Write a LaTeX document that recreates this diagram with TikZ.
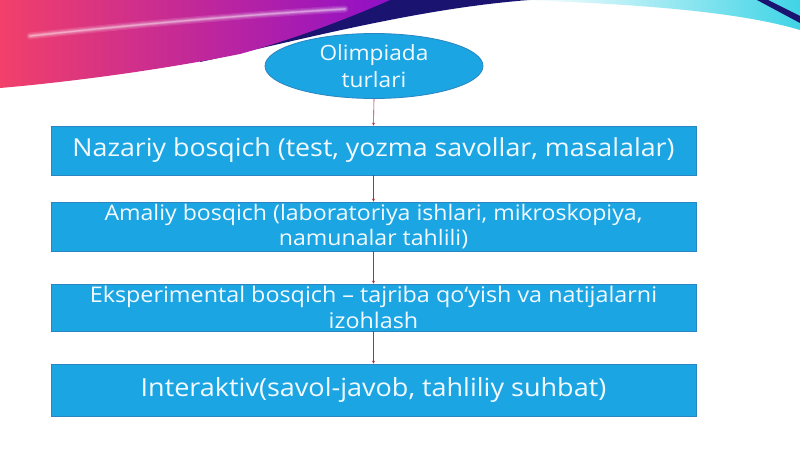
\documentclass[tikz,border=0pt]{standalone}
\usepackage{fontspec}
\setmainfont{Open Sans}[FakeStretch=1.08]
\usetikzlibrary{shapes.geometric,arrows.meta}
\definecolor{boxblue}{HTML}{1BA5E3}
\definecolor{boxedge}{HTML}{2A86C0}
\definecolor{linkred}{HTML}{B0303A}
\definecolor{pinkA}{HTML}{F2406A}
\definecolor{pinkB}{HTML}{E814D8}
\definecolor{purpleC}{HTML}{9010C8}
\definecolor{navyD}{HTML}{1A1470}
\definecolor{cyanE}{HTML}{3FD4E6}
\definecolor{txt}{HTML}{F2FAFF}
\begin{document}
\begin{tikzpicture}[x=1pt,y=-1pt,
  stagebox/.style={draw=boxedge,line width=0.8pt,fill=boxblue,text=txt,
    minimum width=645pt,minimum height=49pt,inner sep=0pt,align=center},
  link/.style={draw=linkred,line width=0.6pt,-{Stealth[length=3pt,width=3pt]}}]
\useasboundingbox (0,0) rectangle (800,449);
\fill[white] (0,0) rectangle (800,449);
% decoration top left
\fill[navyD] (200,62) .. controls (300,40) and (420,8) .. (530,0) -- (200,0) -- cycle;
\shade[left color=pinkA,middle color=pinkB,right color=purpleC]
  (0,0) -- (390,0) .. controls (340,22) and (290,40) .. (240,54)
  .. controls (160,70) and (70,82) .. (0,88) -- cycle;
\foreach \w/\o in {7/0.12,4.5/0.15,2.5/0.2,1.2/0.3}
  \draw[white,line width=\w pt,opacity=\o,line cap=round]
    (30,36) .. controls (120,26) and (240,15) .. (345,9);
% decoration top right
\shade[left color=white,right color=cyanE]
  (520,0) -- (800,0) -- (800,30) .. controls (740,12) and (640,4) .. (520,0) -- cycle;
\fill[navyD] (757,0) -- (768,0) .. controls (780,6) and (790,11) .. (800,16) -- (800,23)
  .. controls (785,15) and (770,7) .. (757,0) -- cycle;
% nodes
\node[ellipse,draw=boxedge,line width=0.8pt,fill=boxblue,text=txt,
  minimum width=218pt,minimum height=65pt,inner sep=0pt,align=center,
  font=\fontsize{21}{27}\selectfont] (top) at (374,66) {Olimpiada\\turlari};
\node[stagebox,font=\fontsize{24.8}{29}\selectfont] (n1) at (373.5,150.5)
  {Nazariy bosqich (test, yozma savollar, masalalar)};
\node[stagebox,font=\fontsize{21.4}{25.5}\selectfont] (n2) at (373.5,226.5)
  {Amaliy bosqich (laboratoriya ishlari, mikroskopiya,\\namunalar tahlili)};
\node[stagebox,minimum height=47pt,font=\fontsize{21.6}{26}\selectfont] (n3) at (373.5,307.5)
  {\raisebox{-4pt}{\shortstack{Eksperimental bosqich – tajriba qo‘yish va natijalarni\\[2pt]izohlash}}};
\node[stagebox,minimum height=52pt,font=\fontsize{25}{29}\selectfont] (n4) at (373.5,390)
  {Interaktiv(savol-javob, tahliliy suhbat)};
\draw[link] (top.south) -- (n1.north);
\draw[link] (n1.south) -- (n2.north);
\draw[link] (n2.south) -- (n3.north);
\draw[link] (n3.south) -- (n4.north);
\end{tikzpicture}
\end{document}
